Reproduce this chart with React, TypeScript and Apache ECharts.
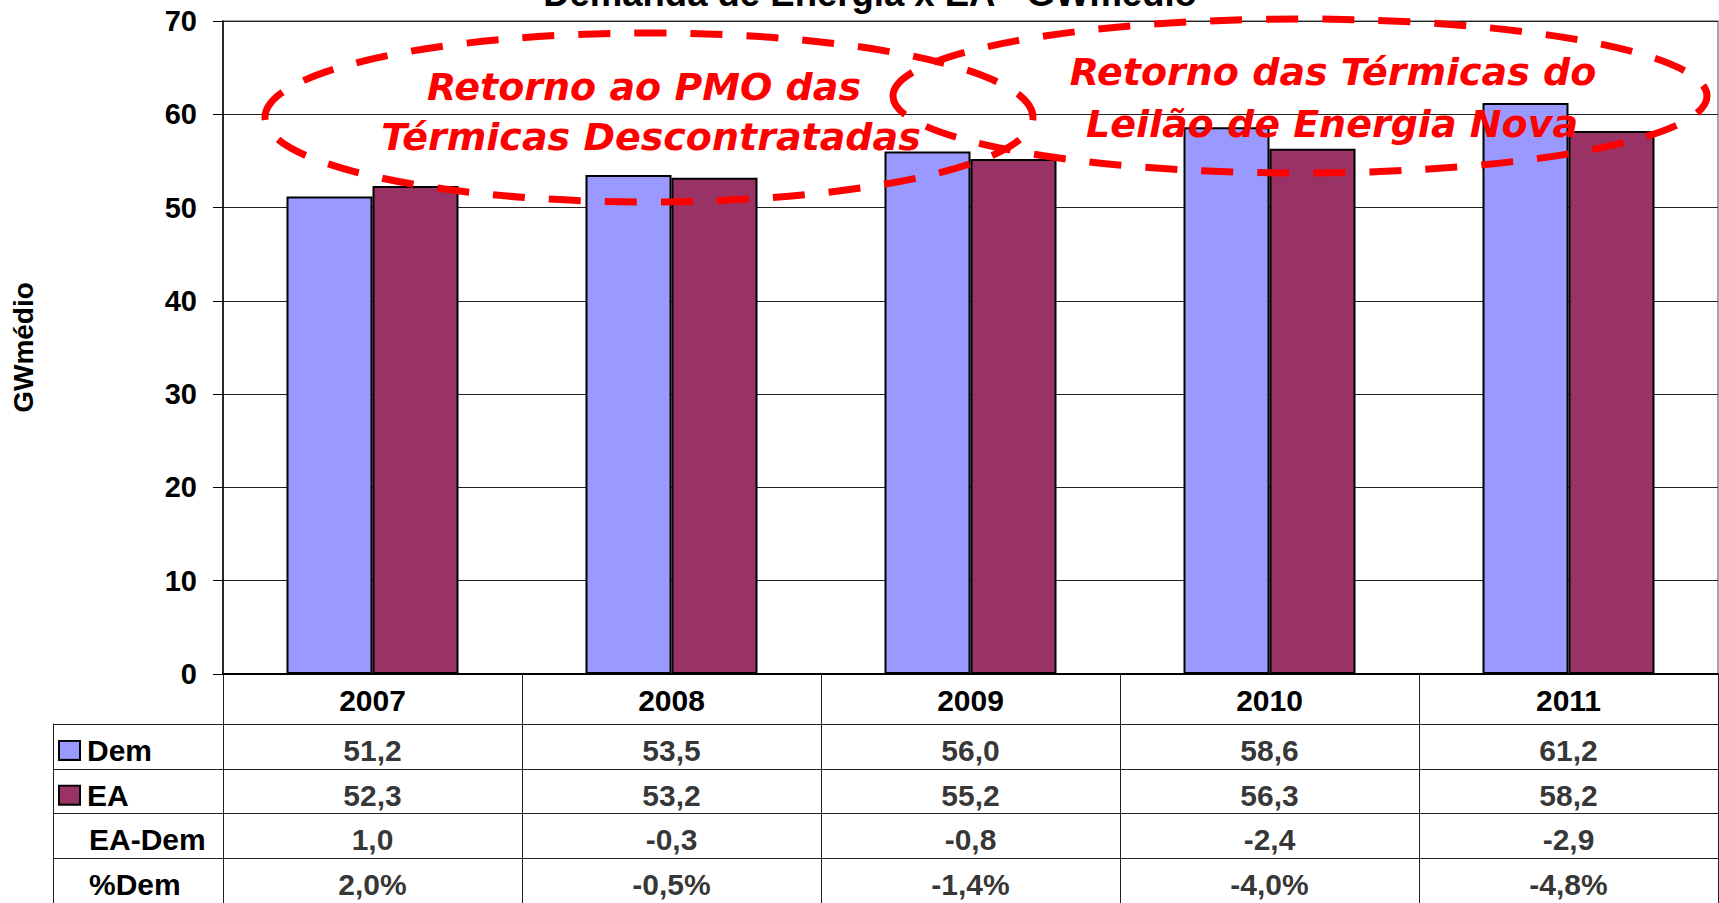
import React, { useEffect, useRef } from 'react';
import * as echarts from 'echarts';

const years = ['2007', '2008', '2009', '2010', '2011'];
const demValues = [51.2, 53.5, 56.0, 58.6, 61.2];
const eaValues = [52.3, 53.2, 55.2, 56.3, 58.2];
const diffValues = [1.0, -0.3, -0.8, -2.4, -2.9];
const pctValues = [2.0, -0.5, -1.4, -4.0, -4.8];
const rowNames = ['Dem', 'EA', 'EA-Dem', '%Dem'];
const yMin = 0;
const yMax = 70;
const yInterval = 10;
const titleText = 'Demanda de Energia x EA - GWmédio';
const yAxisName = 'GWmédio';
const note1 = ['Retorno ao PMO das', 'Térmicas Descontratadas'];
const note2 = ['Retorno das Térmicas do', 'Leilão de Energia Nova'];

const FONT = '"Liberation Sans", Arial, sans-serif';
const NOTE_FONT = '"DejaVu Sans", Verdana, sans-serif';
const DEM_COLOR = '#9999FF';
const EA_COLOR = '#993366';
const RED = '#FF0000';

const fmt = (v: number) => v.toFixed(1).replace('.', ',');

function buildTableData() {
  const rows = [
    demValues.map(fmt),
    eaValues.map(fmt),
    diffValues.map(fmt),
    pctValues.map((v) => fmt(v) + '%'),
  ];
  const out: any[] = [];
  rows.forEach((row, r) => {
    row.forEach((txt, c) => {
      out.push({ value: [years[c], rowNames[r], txt] });
    });
  });
  return out;
}

function noteText(text: string, x: number, y: number) {
  return {
    type: 'text',
    x,
    y,
    z: 120,
    silent: true,
    style: {
      text,
      fill: RED,
      fontSize: 38,
      fontWeight: 'bold',
      fontStyle: 'italic',
      fontFamily: NOTE_FONT,
      align: 'center',
      verticalAlign: 'middle',
      textAlign: 'center',
      textVerticalAlign: 'middle',
    },
  };
}

function ellipse(cx: number, cy: number, rx: number, ry: number) {
  return {
    type: 'ellipse',
    z: 110,
    silent: true,
    shape: { cx, cy, rx, ry },
    style: {
      fill: 'none',
      stroke: RED,
      lineWidth: 7,
      lineDash: [32, 24],
    },
  };
}

export default function App() {
  const ref = useRef<HTMLDivElement>(null);

  useEffect(() => {
    if (!ref.current) return;
    const chart = echarts.init(ref.current, undefined, { renderer: 'svg' });
    const labelStyle = {
      fontFamily: FONT,
      fontWeight: 'bold' as const,
      color: '#000',
    };
    const option: any = {
      animation: false,
      backgroundColor: '#ffffff',
      grid: [
        {
          left: 223,
          top: 21,
          width: 1495,
          height: 653,
          show: true,
          borderColor: '#888',
          borderWidth: 1.5,
          backgroundColor: 'transparent',
        },
        { left: 223, top: 724, width: 1495, height: 183 },
      ],
      xAxis: [
        {
          type: 'category',
          gridIndex: 0,
          data: years,
          axisLine: { show: true, lineStyle: { color: '#000', width: 2 } },
          axisTick: { show: true, length: 240, interval: 0, lineStyle: { color: '#222', width: 1 } },
          axisLabel: { ...labelStyle, interval: 0, margin: 11, fontSize: 30, lineHeight: 30 },
          splitLine: { show: false },
        },
        {
          type: 'category',
          gridIndex: 1,
          data: years,
          show: false,
        },
      ],
      yAxis: [
        {
          type: 'value',
          gridIndex: 0,
          min: yMin,
          max: yMax,
          interval: yInterval,
          name: yAxisName,
          nameLocation: 'middle',
          nameRotate: 90,
          nameGap: 186,
          nameTextStyle: { ...labelStyle, fontSize: 28 },
          axisLine: { show: true, lineStyle: { color: '#000', width: 1.5 } },
          axisTick: { show: true, length: 10, lineStyle: { color: '#000', width: 1 } },
          axisLabel: { ...labelStyle, fontSize: 29, margin: 26 },
          splitLine: { show: true, lineStyle: { color: '#222', width: 1 } },
        },
        {
          type: 'category',
          gridIndex: 1,
          data: rowNames,
          inverse: true,
          axisLine: { show: false },
          axisTick: { show: true, length: 170, interval: 0, lineStyle: { color: '#222', width: 1 } },
          splitLine: { show: true, interval: 0, lineStyle: { color: '#222', width: 1 } },
          axisLabel: {
            interval: 0,
            align: 'left',
            margin: 163,
            padding: [8, 0, 0, 0],
            formatter: (v: string) =>
              v === 'Dem'
                ? '{sqDem| }{t|Dem}'
                : v === 'EA'
                ? '{sqEA| }{t|EA}'
                : '{sp| }{t|' + v + '}',
            rich: {
              sqDem: { width: 19, height: 17, backgroundColor: DEM_COLOR, borderColor: '#000', borderWidth: 2 },
              sqEA: { width: 19, height: 17, backgroundColor: EA_COLOR, borderColor: '#000', borderWidth: 2 },
              sp: { width: 21 },
              t: { ...labelStyle, fontSize: 30, padding: [0, 0, 0, 8] },
            },
          },
        },
        {
          type: 'category',
          gridIndex: 1,
          data: rowNames,
          position: 'left',
          offset: 170,
          axisLine: { show: true, lineStyle: { color: '#222', width: 1 } },
          axisTick: { show: false },
          axisLabel: { show: false },
          splitLine: { show: false },
        },
      ],
      series: [
        {
          type: 'bar',
          name: 'Dem',
          xAxisIndex: 0,
          yAxisIndex: 0,
          data: demValues,
          barWidth: 86,
          barGap: '0%',
          itemStyle: { color: DEM_COLOR, borderColor: '#000', borderWidth: 2 },
        },
        {
          type: 'bar',
          name: 'EA',
          xAxisIndex: 0,
          yAxisIndex: 0,
          data: eaValues,
          barWidth: 86,
          barGap: '0%',
          itemStyle: { color: EA_COLOR, borderColor: '#000', borderWidth: 2 },
        },
        {
          type: 'scatter',
          name: 'tabela',
          xAxisIndex: 1,
          yAxisIndex: 1,
          symbolSize: 1,
          silent: true,
          itemStyle: { color: 'rgba(0,0,0,0)' },
          data: buildTableData(),
          label: {
            show: true,
            position: 'inside',
            offset: [0, 4],
            formatter: (p: any) => p.value[2],
            ...labelStyle,
            fontSize: 30,
          },
        },
      ],
      graphic: [
        {
          type: 'text',
          x: 870,
          y: -7,
          z: 100,
          silent: true,
          style: {
            text: titleText,
            fill: '#000',
            fontSize: 36.5,
            fontWeight: 'bold',
            fontFamily: FONT,
            align: 'center',
            verticalAlign: 'middle',
            textAlign: 'center',
            textVerticalAlign: 'middle',
          },
        },
        ellipse(649, 117.5, 384, 84.5),
        ellipse(1300, 96, 407, 77),
        noteText(note1[0], 644, 87),
        noteText(note1[1], 651, 137),
        noteText(note2[0], 1333, 72),
        noteText(note2[1], 1332, 124),
      ],
    };
    chart.setOption(option);
    return () => {
      chart.dispose();
    };
  }, []);

  return (
    <div
      ref={ref}
      style={{ position: 'fixed', left: 0, top: 0, width: 1719, height: 903, background: '#fff' }}
    />
  );
}
